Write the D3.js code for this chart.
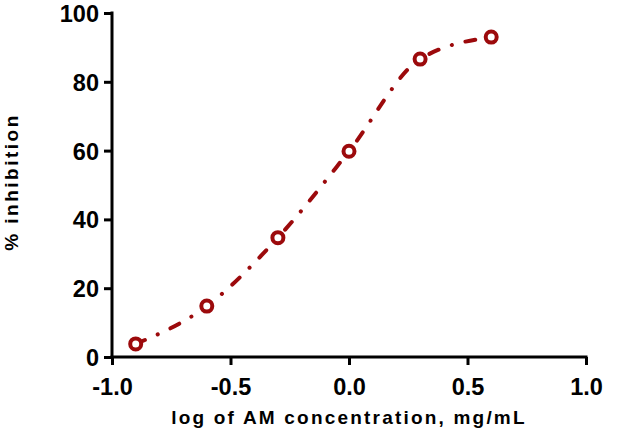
<!DOCTYPE html>
<html>
<head>
<meta charset="utf-8">
<script src="https://cdn.jsdelivr.net/npm/d3@7"></script>
<style>
  html, body { margin: 0; padding: 0; background: #fff; }
  svg { display: block; font-family: "Liberation Sans", Arial, sans-serif; }
</style>
</head>
<body>
<svg id="chart" width="625" height="434"></svg>
<script>
// Data
const logConc = [-0.9, -0.6, -0.3, 0.0, 0.3, 0.6];
const inhibition = [3.8, 14.8, 34.7, 59.8, 86.6, 93.0];
const xTicks = [-1.0, -0.5, 0.0, 0.5, 1.0];
const yTicks = [0, 20, 40, 60, 80, 100];
const xTitle = "log of AM concentration, mg/mL";
const yTitle = "% inhibition";

const color = "#9c0a0c";
const svg = d3.select("#chart");

const x = d3.scaleLinear().domain([-1, 1]).range([112, 586]);
const y = d3.scaleLinear().domain([0, 100]).range([357, 13]);

const data = logConc.map((v, i) => ({ x: v, y: inhibition[i] }));

// Axes
const xAxis = d3.axisBottom(x).tickValues(xTicks).tickFormat(d => d.toFixed(1))
  .tickSize(8).tickSizeOuter(0).tickPadding(13);
const yAxis = d3.axisLeft(y).tickValues(yTicks).tickFormat(d => String(d))
  .tickSize(8).tickSizeOuter(0).tickPadding(5);

const gx = svg.append("g").attr("transform", `translate(0,${y(0)})`).call(xAxis);
const gy = svg.append("g").attr("transform", `translate(${x(-1)},0)`).call(yAxis);

[gx, gy].forEach(g => {
  g.select(".domain").attr("stroke", "#000").attr("stroke-width", 3);
  g.selectAll(".tick line").attr("stroke", "#000").attr("stroke-width", 3);
  g.selectAll(".tick text").attr("fill", "#000")
    .attr("font-size", 23.5).attr("font-weight", "bold")
    .attr("font-family", "Liberation Sans, Arial, sans-serif");
});
gy.selectAll(".tick text").attr("dy", "0.36em");
gx.select(".domain").attr("d", `M${x(-1) - 1.5},0H${x(1) + 1.5}`);
gy.select(".domain").attr("d", `M0,${y(0) + 1.5}V${y(100) - 1.5}`);

// Curve
const line = d3.line().x(d => x(d.x)).y(d => y(d.y)).curve(d3.curveMonotoneX);
svg.append("path")
  .datum(data)
  .attr("d", line)
  .attr("fill", "none")
  .attr("stroke", color)
  .attr("stroke-width", 4)
  .attr("stroke-linecap", "round")
  .attr("stroke-dasharray", "10,14,0.1,14");

// Points
svg.append("g").selectAll("circle")
  .data(data)
  .join("circle")
  .attr("cx", d => x(d.x))
  .attr("cy", d => y(d.y))
  .attr("r", 5.5)
  .attr("fill", "#fff")
  .attr("stroke", color)
  .attr("stroke-width", 4);

// Titles
svg.append("text")
  .attr("x", x(0))
  .attr("y", 424)
  .attr("text-anchor", "middle")
  .attr("font-size", 19)
  .attr("font-weight", "bold")
  .attr("letter-spacing", 2.2)
  .text(xTitle);

svg.append("text")
  .attr("transform", `translate(18,${182}) rotate(-90)`)
  .attr("text-anchor", "middle")
  .attr("font-size", 19)
  .attr("font-weight", "bold")
  .attr("letter-spacing", 2.5)
  .text(yTitle);
</script>
</body>
</html>
